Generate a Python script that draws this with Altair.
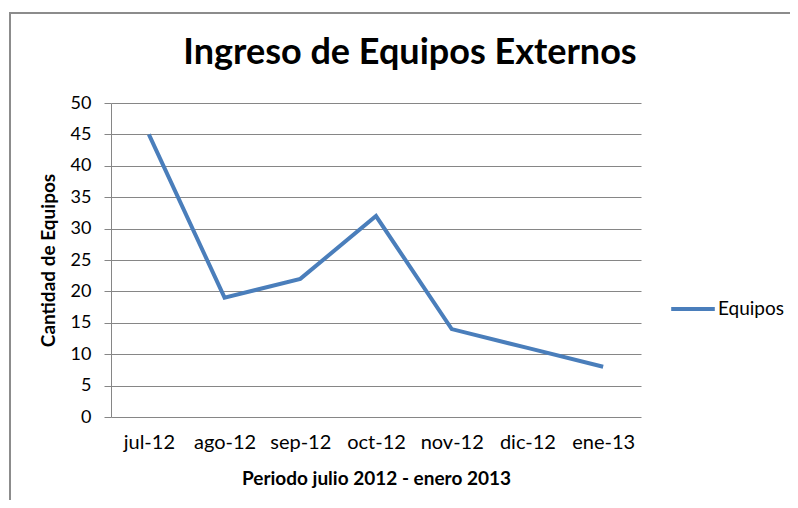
import altair as alt
import pandas as pd

months = ["jul-12", "ago-12", "sep-12", "oct-12", "nov-12", "dic-12", "ene-13"]
equipos = [45, 19, 22, 32, 14, 11, 8]
series_name = "Equipos"
y_ticks = list(range(0, 51, 5))

df = pd.DataFrame({"mes": months, "valor": equipos, "serie": [series_name] * len(months)})

FONT = "Lato"
GRAY = "#868686"
BLUE = "#4A7EBB"

line = alt.Chart(df).mark_line(strokeWidth=4, strokeJoin="miter").encode(
    x=alt.X("mes:N", sort=months, scale=alt.Scale(type="point", padding=0.5),
            axis=alt.Axis(title="Periodo julio 2012 - enero 2013", labelAngle=0, ticks=False,
                          domain=False, labelFontSize=20, labelFont=FONT, labelColor="#000",
                          labelPadding=15, titleFont=FONT, titleFontSize=19,
                          titleFontWeight="bold", titleColor="#000", titlePadding=17)),
    y=alt.Y("valor:Q", scale=alt.Scale(domain=[0, 50], nice=False),
            axis=alt.Axis(title="Cantidad de Equipos", values=y_ticks, grid=True,
                          gridColor=GRAY, gridWidth=1, domainColor=GRAY, tickColor=GRAY,
                          tickSize=7, labelFontSize=18, labelFont=FONT, labelColor="#000",
                          labelPadding=13, titleFont=FONT, titleFontSize=19,
                          titleFontWeight="bold", titleColor="#000", titlePadding=12)),
    color=alt.Color("serie:N", scale=alt.Scale(range=[BLUE]),
                    legend=alt.Legend(title=None, orient="none", legendX=558, legendY=182,
                                      symbolType="stroke", symbolSize=1900,
                                      symbolStrokeWidth=4, labelFontSize=19, labelFont=FONT,
                                      labelColor="#000", labelOffset=1)),
)

frame = alt.Chart(pd.DataFrame({"k": [0]})).mark_rect(
    fill=None, stroke="#8c8c8c", strokeWidth=2
).encode(x=alt.value(-101), x2=alt.value(900), y=alt.value(-90), y2=alt.value(600))

chart = alt.layer(frame, line).properties(
    width=530, height=314,
    title=alt.TitleParams("Ingreso de Equipos Externos", font=FONT, fontSize=36,
                          fontWeight="bold", color="#000", anchor="middle", frame="group",
                          baseline="alphabetic", dx=34, offset=0, dy=88),
    autosize=alt.AutoSizeParams(type="none"),
    padding={"left": 103, "top": 95, "right": 149, "bottom": 83},
).configure_view(stroke=None)

chart.save("out.html", embed_options={"renderer": "svg", "actions": False})
